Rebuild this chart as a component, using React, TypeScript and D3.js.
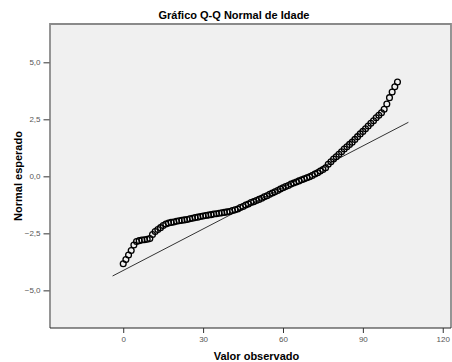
import React, { useEffect, useRef } from 'react'
import * as d3 from 'd3'

// observed ages (one point per distinct value)
const observed = [
  0, 1, 2, 3, 4, 5, 6, 7, 8, 9, 10, 11, 12, 13, 14, 15, 16, 17, 18, 19, 20,
  21, 22, 23, 24, 25, 26, 27, 28, 29, 30, 31, 32, 33, 34, 35, 36, 37, 38, 39,
  40, 41, 42, 43, 44, 45, 46, 47, 48, 49, 50, 51, 52, 53, 54, 55, 56, 57, 58,
  59, 60, 61, 62, 63, 64, 65, 66, 67, 68, 69, 70, 71, 72, 73, 74, 75, 76, 77,
  78, 79, 80, 81, 82, 83, 84, 85, 86, 87, 88, 89, 90, 91, 92, 93, 94, 95, 96,
  97, 98, 99, 100, 101, 102, 103,
]

// expected normal value
const expected = [
  -3.83, -3.65, -3.45, -3.25, -3.01, -2.86, -2.82, -2.79, -2.78, -2.76, -2.73,
  -2.55, -2.42, -2.33, -2.25, -2.16, -2.09, -2.05, -2.02, -2.0, -1.97, -1.95,
  -1.93, -1.91, -1.89, -1.86, -1.84, -1.81, -1.79, -1.76, -1.74, -1.72, -1.7,
  -1.68, -1.65, -1.64, -1.62, -1.6, -1.58, -1.56, -1.54, -1.5, -1.47, -1.43,
  -1.37, -1.32, -1.26, -1.21, -1.15, -1.11, -1.06, -1.01, -0.96, -0.9, -0.85,
  -0.79, -0.73, -0.68, -0.62, -0.56, -0.5, -0.45, -0.4, -0.34, -0.29, -0.25,
  -0.2, -0.15, -0.11, -0.06, -0.02, 0.04, 0.1, 0.16, 0.23, 0.3, 0.38, 0.53,
  0.64, 0.76, 0.86, 0.97, 1.08, 1.2, 1.3, 1.4, 1.5, 1.62, 1.74, 1.86, 1.97,
  2.09, 2.21, 2.33, 2.44, 2.57, 2.68, 2.79, 2.94, 3.17, 3.45, 3.7, 3.93, 4.14,
]

// reference line end points
const lineX = [-4.0, 107.1]
const lineY = [-4.37, 2.37]

const xTicks = [0, 30, 60, 90, 120]
const yTicks = [-5, -2.5, 0, 2.5, 5]

const title = 'Gráfico Q-Q Normal de Idade'
const xTitle = 'Valor observado'
const yTitle = 'Normal esperado'

const W = 452
const H = 362

const App = () => {
  const svgRef = useRef<SVGSVGElement>(null)

  useEffect(() => {
    const svg = d3.select(svgRef.current)
    svg.selectAll('*').remove()

    const left = 50
    const right = 451
    const top = 24
    const bottom = 328
    const font = '"Liberation Sans", Arial, sans-serif'

    const x = d3.scaleLinear().domain([-27.5, 123.1]).range([left, right])
    const y = d3.scaleLinear().domain([-6.65, 6.68]).range([bottom, top])

    // plot background
    svg
      .append('rect')
      .attr('x', left)
      .attr('y', top)
      .attr('width', right - left)
      .attr('height', bottom - top)
      .attr('fill', '#f0f0f0')

    // frame
    svg
      .append('path')
      .attr('d', `M${left},${bottom}V${top}H${right}V${bottom}`)
      .attr('fill', 'none')
      .attr('stroke', '#8a8a8a')
      .attr('stroke-width', 1.8)

    const fmt = (d: number) => d3.format('.1f')(d).replace('.', ',')

    // y axis
    const yAxis = d3
      .axisLeft(y)
      .tickValues(yTicks)
      .tickSize(6)
      .tickPadding(3)
      .tickFormat((d) => fmt(d as number))
    const gy = svg.append('g').attr('transform', `translate(${left - 0.5},0)`).call(yAxis)
    gy.select('.domain').remove()
    gy.selectAll('line').attr('stroke', '#333')
    gy.selectAll('text')
      .attr('font-family', font)
      .attr('font-size', 8)
      .attr('fill', '#555')

    // x axis
    const xAxis = d3
      .axisBottom(x)
      .tickValues(xTicks)
      .tickSize(5)
      .tickPadding(3)
      .tickFormat((d) => String(d))
    const gx = svg.append('g').attr('transform', `translate(0,${bottom})`).call(xAxis)
    gx.select('.domain').attr('stroke', '#222').attr('d', `M${left},0H${right}`)
    gx.selectAll('line').attr('stroke', '#333')
    gx.selectAll('text')
      .attr('font-family', font)
      .attr('font-size', 8)
      .attr('fill', '#555')

    // reference line
    svg
      .append('line')
      .attr('x1', x(lineX[0]))
      .attr('y1', y(lineY[0]))
      .attr('x2', x(lineX[1]))
      .attr('y2', y(lineY[1]))
      .attr('stroke', '#333')
      .attr('stroke-width', 1)

    // points
    svg
      .append('g')
      .selectAll('circle')
      .data(observed)
      .enter()
      .append('circle')
      .attr('cx', (d) => x(d))
      .attr('cy', (d, i) => y(expected[i]))
      .attr('r', 2.9)
      .attr('fill', 'none')
      .attr('stroke', '#000')
      .attr('stroke-width', 1.3)

    // titles
    svg
      .append('text')
      .attr('x', 234)
      .attr('y', 19)
      .attr('text-anchor', 'middle')
      .attr('font-family', font)
      .attr('font-weight', 'bold')
      .attr('font-size', 11)
      .text(title)

    svg
      .append('text')
      .attr('x', 256.5)
      .attr('y', 360)
      .attr('text-anchor', 'middle')
      .attr('font-family', font)
      .attr('font-weight', 'bold')
      .attr('font-size', 11)
      .text(xTitle)

    svg
      .append('text')
      .attr('transform', `translate(22,176) rotate(-90)`)
      .attr('text-anchor', 'middle')
      .attr('font-family', font)
      .attr('font-weight', 'bold')
      .attr('font-size', 11)
      .text(yTitle)
  }, [])

  return (
    <svg
      ref={svgRef}
      width={W}
      height={H}
      style={{ position: 'absolute', left: 0, top: 0, background: '#fff' }}
    ></svg>
  )
}

export default App
